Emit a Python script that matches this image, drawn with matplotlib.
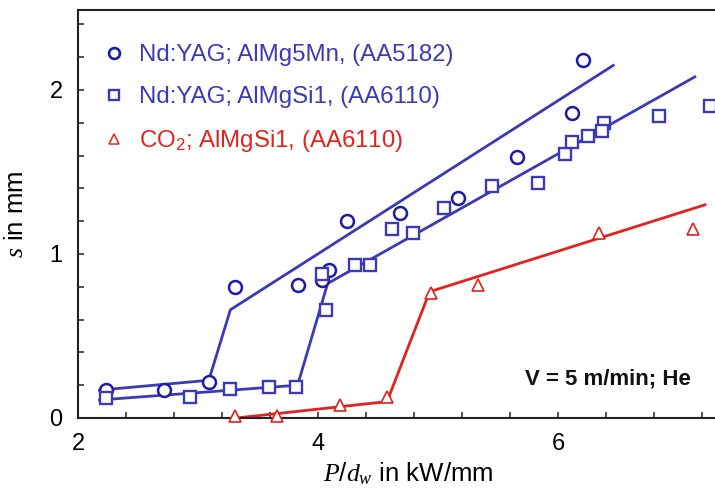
import numpy as np
import matplotlib
matplotlib.use("Agg")
import matplotlib.pyplot as plt
from matplotlib.lines import Line2D
from matplotlib.ticker import FixedLocator

plt.rcParams['font.family'] = ['Liberation Sans', 'DejaVu Sans']
plt.rcParams['mathtext.fontset'] = 'custom'
plt.rcParams['mathtext.rm'] = 'Liberation Sans'
plt.rcParams['mathtext.it'] = 'Liberation Serif:italic'

# Nd:YAG laser, AlMg5Mn (AA5182)
x_5182 = [2.23, 2.72, 3.09, 3.31, 3.83, 4.03, 4.09, 4.24, 4.68, 5.17, 5.66, 6.12, 6.21]
s_5182 = [0.17, 0.17, 0.22, 0.80, 0.81, 0.84, 0.90, 1.20, 1.25, 1.34, 1.59, 1.86, 2.18]
fit_x_5182 = [2.18, 3.09, 3.27, 6.46]
fit_s_5182 = [0.17, 0.23, 0.66, 2.15]

# Nd:YAG laser, AlMgSi1 (AA6110)
x_6110 = [2.23, 2.93, 3.27, 3.59, 3.82, 4.07, 4.03, 4.31, 4.43, 4.62, 4.79,
          5.05, 5.45, 5.83, 6.06, 6.12, 6.25, 6.38, 6.37, 6.84, 7.27]
s_6110 = [0.12, 0.13, 0.175, 0.19, 0.19, 0.66, 0.88, 0.93, 0.93, 1.15, 1.13,
          1.28, 1.415, 1.43, 1.61, 1.68, 1.72, 1.80, 1.75, 1.84, 1.90]
fit_x_6110 = [2.18, 3.83, 4.08, 7.14]
fit_s_6110 = [0.11, 0.20, 0.82, 2.08]

# CO2 laser, AlMgSi1 (AA6110)
x_co2 = [3.31, 3.66, 4.18, 4.575, 4.94, 5.33, 6.34, 7.125]
s_co2 = [0.01, 0.01, 0.08, 0.13, 0.76, 0.81, 1.13, 1.15]
fit_x_co2 = [3.32, 4.575, 4.93, 7.225]
fit_s_co2 = [0.0, 0.10, 0.77, 1.30]

labels = ["Nd:YAG; AlMg5Mn, (AA5182)",
          "Nd:YAG; AlMgSi1, (AA6110)",
          "CO$_2$; AlMgSi1, (AA6110)"]
note = "V = 5 m/min; He"

c_circ = "#1c1ca6"
c_blue = "#3a3ab6"
c_red = "#e3221d"

W, H = 715, 496
fig = plt.figure(figsize=(W / 100, H / 100), dpi=100)
ax = fig.add_axes([78 / W, (H - 418) / H, (W - 78) / W, (418 - 10) / H])

# fitted trend lines
ax.plot(fit_x_5182, fit_s_5182, color=c_blue, lw=2.0, zorder=2)
ax.plot(fit_x_6110, fit_s_6110, color=c_blue, lw=2.0, zorder=2)
ax.plot(fit_x_co2, fit_s_co2, color=c_red, lw=2.0, zorder=2)

# measured points
ax.plot(x_5182, s_5182, ls="none", marker="o", ms=9.3, mew=1.8,
        mec=c_circ, mfc="white", zorder=3, clip_on=False)
ax.plot(x_6110, s_6110, ls="none", marker="s", ms=9.2, mew=1.7,
        mec=c_blue, mfc="white", zorder=4, clip_on=False)
ax.plot(x_co2, s_co2, ls="none", marker="^", ms=8, mew=1.2,
        mec=c_red, mfc="white", zorder=4, clip_on=False)

ax.set_xlim(2, 2 + (W - 78) / 120)
ax.set_ylim(0, 408 / 164)

ax.xaxis.set_major_locator(FixedLocator([2, 4, 6]))
ax.xaxis.set_minor_locator(FixedLocator(np.arange(2.4, 7.3, 0.4)))
ax.yaxis.set_major_locator(FixedLocator([0, 1, 2]))
ax.yaxis.set_minor_locator(FixedLocator(np.arange(0.2, 2.45, 0.2)))
ax.tick_params(which="both", direction="in", length=4.5, width=1.1,
               top=False, right=False, color="#222222")
ax.tick_params(axis="x", which="major", labelsize=17, pad=10.5)
ax.tick_params(axis="y", which="major", labelsize=17, pad=11)

ax.spines["right"].set_visible(False)
for side in ("left", "bottom", "top"):
    ax.spines[side].set_linewidth(1.5)
    ax.spines[side].set_color("#222222")

ax.set_xlabel(r"$P/d_w$ in kW/mm", fontsize=18.5)
ax.xaxis.set_label_coords(0.518, -0.103)
ax.set_ylabel(r"$s$ in mm", fontsize=18.5)
ax.yaxis.set_label_coords(-0.079, 0.50)

handles = [
    Line2D([], [], ls="none", marker="o", ms=7.8, mew=1.9, mec=c_circ, mfc="white"),
    Line2D([], [], ls="none", marker="s", ms=7.8, mew=1.7, mec=c_blue, mfc="white"),
    Line2D([], [], ls="none", marker="^", ms=6.5, mew=1.1, mec=c_red, mfc="white"),
]
ax.legend(handles, labels, loc="upper left", bbox_to_anchor=(0.038, 0.916),
          frameon=False, fontsize=17.3, borderpad=0, borderaxespad=0,
          handlelength=1.0, handletextpad=0.55, labelspacing=0.83,
          labelcolor=[c_blue, c_blue, c_red])

ax.text((608 - 78) / 637, (418 - 385) / 408, note, transform=ax.transAxes,
        ha="center", va="baseline", fontsize=16, fontweight="bold",
        color="#111111")

fig.savefig("out.png", dpi=100)
